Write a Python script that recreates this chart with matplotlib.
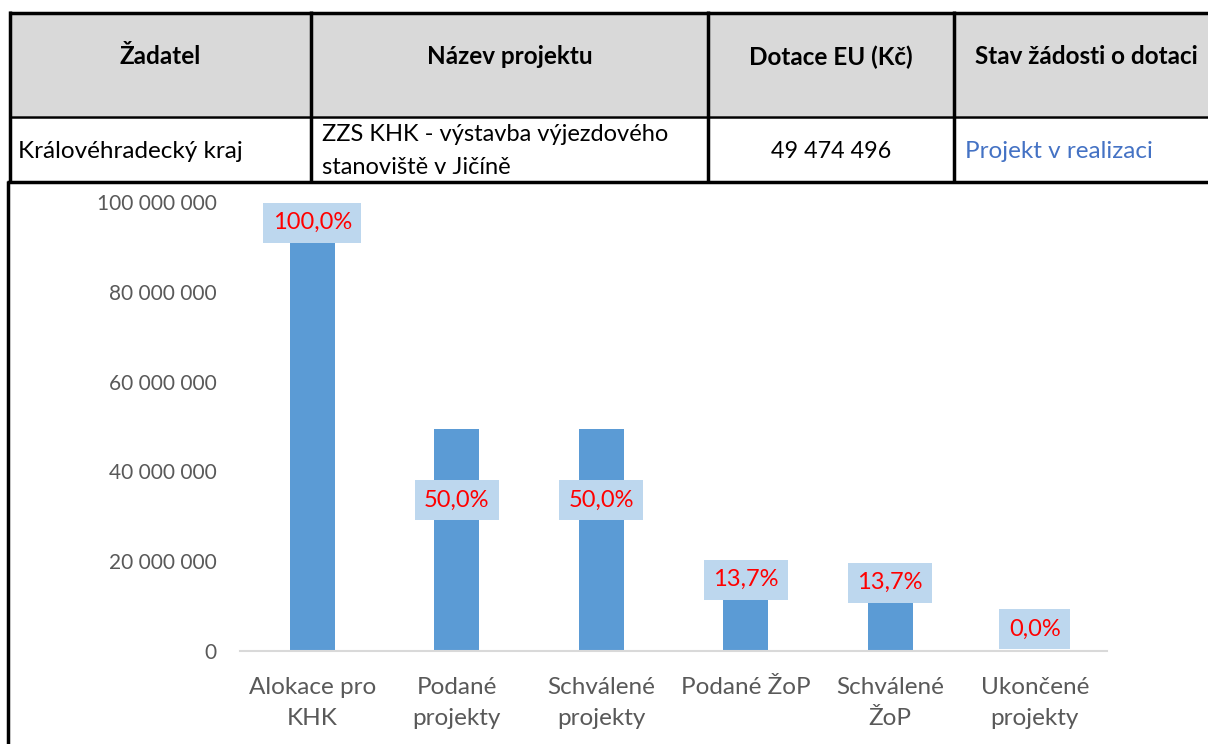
import matplotlib
matplotlib.use('Agg')
import matplotlib.pyplot as plt
from matplotlib.lines import Line2D
from matplotlib.patches import Rectangle

plt.rcParams['font.family'] = ['Lato', 'DejaVu Sans']

# Tabulka nad grafem
header = ['Žadatel', 'Název projektu', 'Dotace EU (Kč)', 'Stav žádosti o dotaci']
row = ['Královéhradecký kraj', 'ZZS KHK - výstavba výjezdového\nstanoviště v Jičíně',
       '49 474 496', 'Projekt v realizaci']

# Data grafu
categories = ['Alokace pro\nKHK', 'Podané\nprojekty', 'Schválené\nprojekty',
              'Podané ŽoP', 'Schválené\nŽoP', 'Ukončené\nprojekty']
values = [98948992, 49474496, 49474496, 13560000, 13520000, 0]
percent_labels = ['100,0%', '50,0%', '50,0%', '13,7%', '13,7%', '0,0%']
label_y = [95400000, 33600000, 33600000, 15900000, 15200000, 4900000]
yticks = [0, 20000000, 40000000, 60000000, 80000000, 100000000]

W, H = 1208, 744
fig = plt.figure(figsize=(W / 100, H / 100), dpi=100)


def fx(px):
    return px / W


def fy(py):
    return 1 - py / H


# šedé záhlaví
fig.patches.append(Rectangle((fx(10), fy(116)), fx(W - 10), (116 - 12) / H,
                             transform=fig.transFigure, fc='#d9d9d9', ec='none', zorder=0))

# čáry tabulky
def hline(y, x0, x1, lw=2.5):
    fig.lines.append(Line2D([fx(x0), fx(x1)], [fy(y), fy(y)], transform=fig.transFigure,
                            color='black', lw=lw, solid_capstyle='butt'))


def vline(x, y0, y1, lw=2.5):
    fig.lines.append(Line2D([fx(x), fx(x)], [fy(y0), fy(y1)], transform=fig.transFigure,
                            color='black', lw=lw, solid_capstyle='butt'))


hline(12.5, 9, W)
hline(116.5, 9, W, lw=1.8)
hline(182, 7, W)
vline(10, 11, 182)
vline(8, 181, H)
vline(311, 11, 182)
vline(708, 11, 182)
vline(954, 11, 182)

# texty záhlaví
header_x = [160, 510, 831, 1086]
for hx, txt in zip(header_x, header):
    fig.text(fx(hx), fy(57), txt, ha='center', va='center', fontsize=17.5,
             fontweight='bold', color='black')

fig.text(fx(18), fy(151), row[0], ha='left', va='center', fontsize=17.5, color='black')
fig.text(fx(322), fy(151), row[1], ha='left', va='center', fontsize=17, color='black',
         linespacing=1.7)
fig.text(fx(831), fy(151), row[2], ha='center', va='center', fontsize=16.8, color='black')
fig.text(fx(965), fy(151), row[3], ha='left', va='center', fontsize=17.5, color='#4472c4')

# graf
ax = fig.add_axes([fx(240), fy(651), fx(1107 - 240), (651 - 202) / H])
x = range(len(categories))
ax.bar(x, values, width=0.31, color='#5b9bd5', zorder=2)
ax.set_xlim(-0.5, len(categories) - 0.5)
ax.set_ylim(0, 100000000)
ax.set_yticks(yticks)
ax.set_yticklabels([f'{v:,.0f}'.replace(',', ' ') for v in yticks])
ax.set_xticks(list(x))
ax.set_xticklabels(categories, linespacing=1.58)
ax.tick_params(axis='both', length=0, colors='#595959')
ax.tick_params(axis='y', pad=17, labelsize=15)
ax.tick_params(axis='x', pad=19, labelsize=17.5)
for s in ['top', 'right', 'left']:
    ax.spines[s].set_visible(False)
ax.spines['bottom'].set_color('#d9d9d9')
ax.spines['bottom'].set_linewidth(1.5)

for xi, ly, lab in zip(x, label_y, percent_labels):
    ax.text(xi, ly, lab, ha='center', va='center', fontsize=17, color='#ff0000', zorder=3,
            clip_on=False,
            bbox=dict(boxstyle='square,pad=0.4', fc='#bdd7ee', ec='none'))

fig.savefig('out.png', dpi=100)
